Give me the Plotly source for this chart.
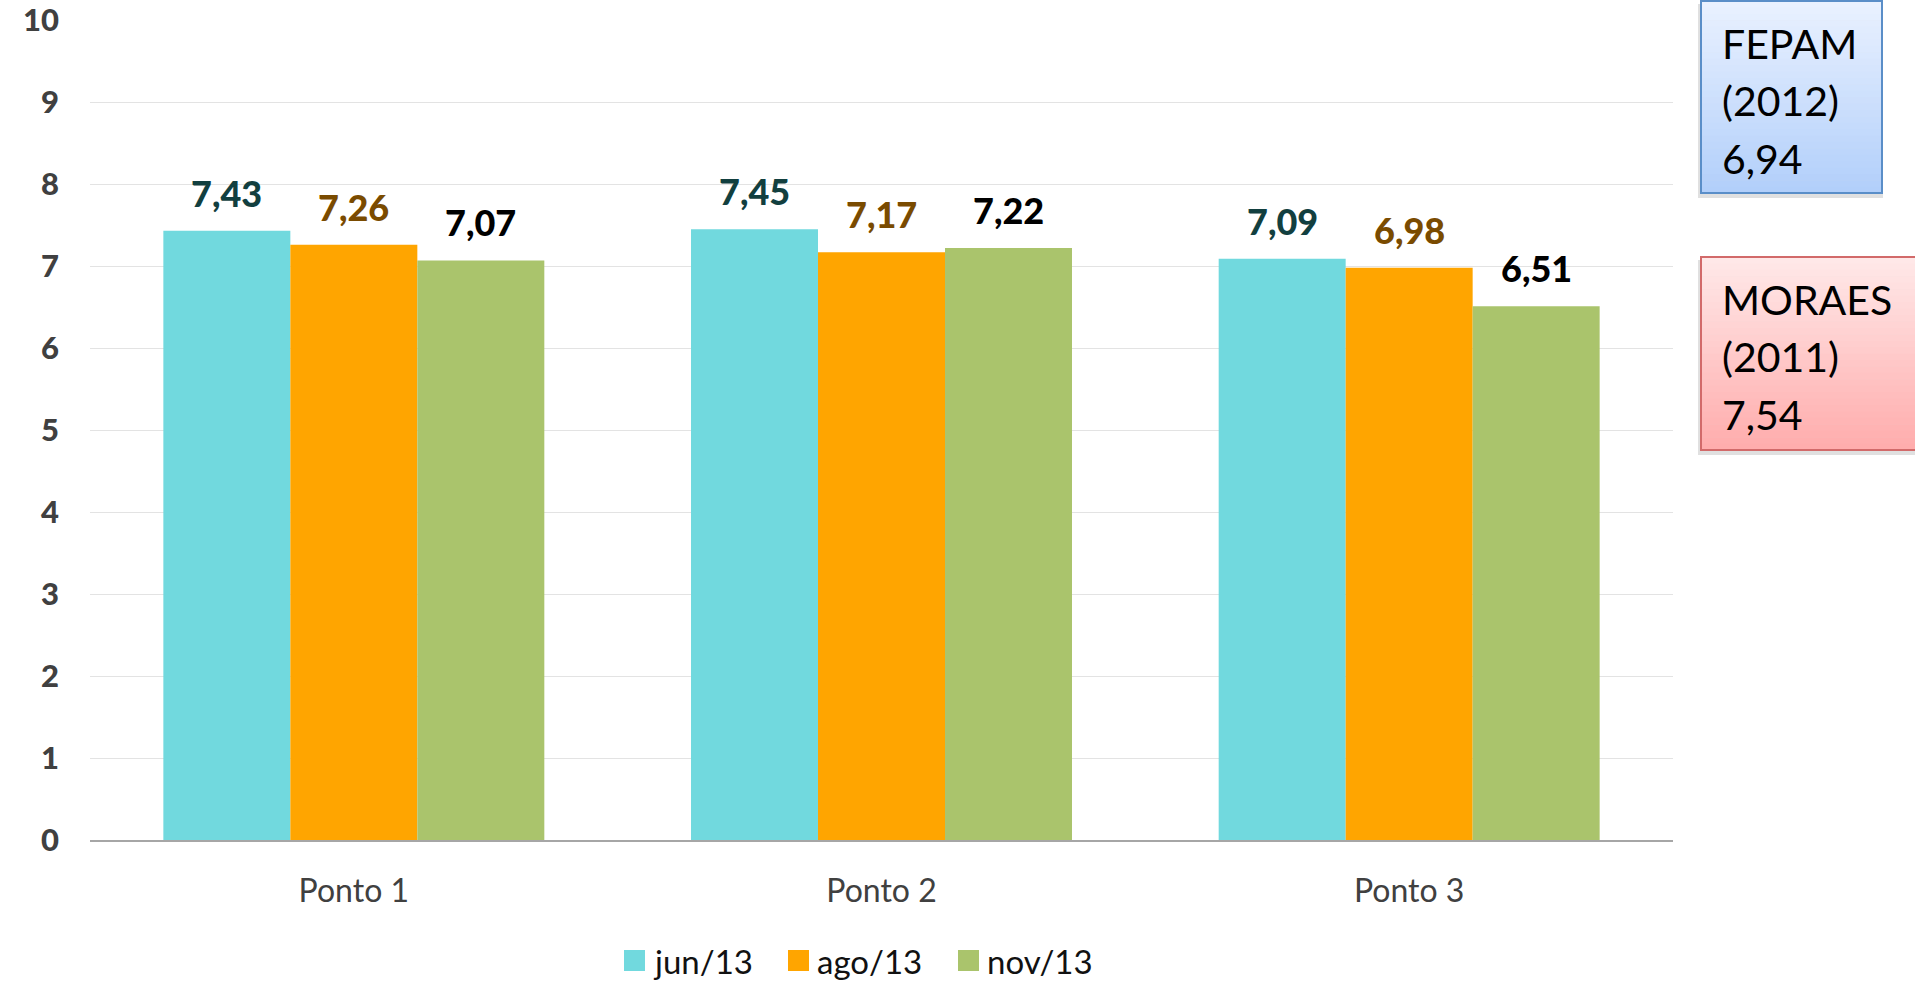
import plotly.graph_objects as go

categories = ["Ponto 1", "Ponto 2", "Ponto 3"]
series_names = ["jun/13", "ago/13", "nov/13"]
jun_values = [7.43, 7.45, 7.09]
ago_values = [7.26, 7.17, 6.98]
nov_values = [7.07, 7.22, 6.51]
y_ticks = [0, 1, 2, 3, 4, 5, 6, 7, 8, 9, 10]
ref_fepam = ["FEPAM", "(2012)", "6,94"]
ref_moraes = ["MORAES", "(2011)", "7,54"]

bar_colors = ["#71d9de", "#ffa500", "#aac46c"]
label_colors = ["#123f3f", "#7a4b00", "#000000"]
FONT = "Lato"

W, H = 1915, 981
L, R, T, B = 90, 1673, 20, 840
PW, PH = R - L, B - T


def px(x):
    return (x - L) / PW


def py(y):
    return (B - y) / PH


fig = go.Figure()
all_values = [jun_values, ago_values, nov_values]
for name, vals, col in zip(series_names, all_values, bar_colors):
    fig.add_trace(go.Bar(x=categories, y=vals, name=name, marker=dict(color=col, line=dict(width=0)),
                         showlegend=False, hoverinfo="x+y"))

annotations = []
bar_px = PW / 3 * (1 - 0.278) / 3
for i, (vals, lc) in enumerate(zip(all_values, label_colors)):
    for c, v in zip(categories, vals):
        annotations.append(dict(x=c, y=v, xref="x", yref="y", text=f"{v:.2f}".replace(".", ","),
                                showarrow=False, yanchor="bottom", xanchor="center",
                                xshift=(i - 1) * bar_px, yshift=14,
                                font=dict(family=FONT, size=36, color=lc, weight=900)))

shapes = []
# custom legend
leg_x = [624, 788, 958]
for xs, name, col in zip(leg_x, series_names, bar_colors):
    shapes.append(dict(type="rect", xref="paper", yref="paper", x0=px(xs), x1=px(xs + 21),
                       y0=py(971), y1=py(950), fillcolor=col, line=dict(width=0)))
    annotations.append(dict(x=px(xs + 27), y=py(961), xref="paper", yref="paper", text=name,
                            showarrow=False, xanchor="left", yanchor="middle",
                            font=dict(family=FONT, size=33, color="#111111")))


def hexmix(c1, c2, t):
    a = [int(c1[i:i + 2], 16) for i in (1, 3, 5)]
    b = [int(c2[i:i + 2], 16) for i in (1, 3, 5)]
    return "#" + "".join(f"{round(a[k] + (b[k] - a[k]) * t):02x}" for k in range(3))


def gradient_box(x0, x1, y0, y1, ctop, cbot, border):
    # shadow
    shapes.append(dict(type="rect", xref="paper", yref="paper", x0=px(x0 - 3), x1=px(x1 + 1),
                       y0=py(y1 + 5), y1=py(y0 + 3), fillcolor="rgba(0,0,0,0.12)",
                       line=dict(width=0), layer="above"))
    n = 30
    for k in range(n):
        ya = y0 + (y1 - y0) * k / n
        yb = y0 + (y1 - y0) * (k + 1) / n
        shapes.append(dict(type="rect", xref="paper", yref="paper", x0=px(x0), x1=px(x1),
                           y0=py(yb + 0.5), y1=py(ya), fillcolor=hexmix(ctop, cbot, k / (n - 1)),
                           line=dict(width=0), layer="above"))
    shapes.append(dict(type="rect", xref="paper", yref="paper", x0=px(x0), x1=px(x1),
                       y0=py(y1), y1=py(y0), fillcolor="rgba(0,0,0,0)",
                       line=dict(color=border, width=2), layer="above"))


gradient_box(1701, 1882, 1, 193, "#e9f1ff", "#b2cffa", "#5a8ec8")
gradient_box(1701, 1930, 257, 450, "#ffe8e8", "#ffadad", "#d26a6a")

for lines, base in ((ref_fepam, [61, 118, 176]), (ref_moraes, [317, 374, 432])):
    for txt, bl in zip(lines, base):
        annotations.append(dict(x=px(1720), y=py(bl + 9), xref="paper", yref="paper", text=txt,
                                showarrow=False, xanchor="left", yanchor="bottom",
                                font=dict(family=FONT, size=41, color="#000000")))

fig.update_layout(
    width=W, height=H,
    margin=dict(l=L, r=W - R, t=T, b=H - B, pad=0, autoexpand=False),
    paper_bgcolor="white", plot_bgcolor="white",
    barmode="group", bargap=0.278, bargroupgap=0,
    font=dict(family=FONT),
    annotations=annotations, shapes=shapes,
    showlegend=False,
)
fig.update_yaxes(range=[0, 10.002], tickvals=y_ticks, showgrid=True, gridcolor="#e3e3e3", gridwidth=1,
                 zeroline=False, showline=False, ticks="", ticklabelstandoff=30, automargin=False,
                 tickfont=dict(family=FONT, size=31, color="#404040", weight=900))
fig.update_xaxes(showline=True, linecolor="#a6a6a6", linewidth=2, ticks="", ticklabelstandoff=22,
                 automargin=False,
                 tickfont=dict(family=FONT, size=32, color="#404040"))

fig.write_html("out.html")
